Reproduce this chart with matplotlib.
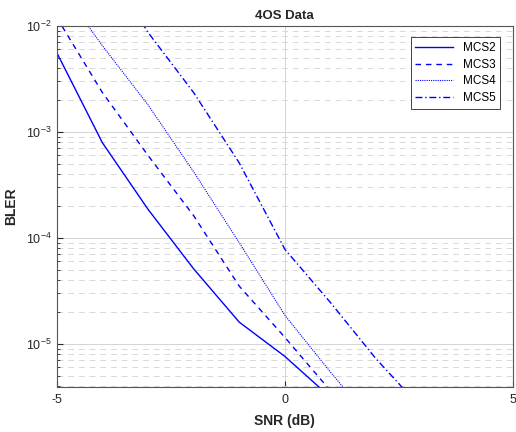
import numpy as np
import matplotlib
matplotlib.use("Agg")
import matplotlib.pyplot as plt
from matplotlib.ticker import LogLocator, NullFormatter

plt.rcParams['font.family'] = ['Liberation Sans', 'DejaVu Sans']
plt.rcParams['axes.unicode_minus'] = False

# SNR (dB) and BLER
snr_mcs2 = [-5.2, -5, -4, -3, -2, -1, 0, 0.75, 1.0]
bler_mcs2 = [9.0e-3, 5.6e-3, 7.9e-4, 1.86e-4, 5.1e-5, 1.6e-5, 7.6e-6, 3.9e-6, 3.0e-6]

snr_mcs3 = [-5, -4, -3, -2, -1, 0, 1]
bler_mcs3 = [1.2e-2, 2.35e-3, 6.0e-4, 1.62e-4, 3.5e-5, 1.15e-5, 3.6e-6]

snr_mcs4 = [-4.5, -4, -3, -2, -1, 0, 1, 1.5]
bler_mcs4 = [1.3e-2, 6.5e-3, 1.8e-3, 4.2e-4, 9.0e-5, 1.86e-5, 5.4e-6, 3.0e-6]

snr_mcs5 = [-3.5, -3, -2, -1, 0, 1, 2, 2.5, 3]
bler_mcs5 = [1.9e-2, 8.7e-3, 2.35e-3, 5.1e-4, 7.8e-5, 2.45e-5, 7.2e-6, 4.2e-6, 2.4e-6]

fig = plt.figure(figsize=(5.16, 4.32), dpi=100)
ax = fig.add_axes([0.110, 0.104, 0.884, 0.836])

ax.semilogy(snr_mcs2, bler_mcs2, color='blue', linestyle='-', linewidth=1.0, label='MCS2')
ax.semilogy(snr_mcs3, bler_mcs3, color='blue', linestyle=(0, (4, 3.5)), linewidth=1.0, label='MCS3')
ax.semilogy(snr_mcs4, bler_mcs4, color='blue', linestyle=(0, (1, 1)), linewidth=0.8, label='MCS4')
ax.semilogy(snr_mcs5, bler_mcs5, color='blue', linestyle=(0, (5, 2, 1, 2)), linewidth=1.0, label='MCS5')

ax.set_xlim(-5, 5)
ax.set_ylim(3.9e-6, 1e-2)
ax.set_xticks([-5, 0, 5])
ax.yaxis.set_major_locator(LogLocator(base=10, numticks=10))
ax.yaxis.set_minor_locator(LogLocator(base=10, subs=np.arange(2, 10), numticks=10))
ax.yaxis.set_minor_formatter(NullFormatter())

ax.grid(True, which='major', axis='both', color='#d4d4d4', linestyle='-', linewidth=0.7)
ax.grid(True, which='minor', axis='y', color='#d8d8d8', linestyle=(0, (6, 5)), linewidth=0.7)
ax.set_axisbelow(True)

ax.tick_params(axis='both', which='both', direction='in', colors='#262626', labelsize=9)
ax.tick_params(axis='both', which='major', length=4)
ax.tick_params(axis='x', which='major', pad=5)
ax.tick_params(axis='y', which='minor', length=2)
for s in ax.spines.values():
    s.set_color('#555555')
    s.set_linewidth(0.8)

ax.set_title('4OS Data', fontsize=9.5, fontweight='bold', color='#262626', pad=5)
ax.set_xlabel('SNR (dB)', fontsize=10, fontweight='bold', color='#262626', labelpad=6)
ax.set_ylabel('BLER', fontsize=10, fontweight='bold', color='#262626', labelpad=6)

leg = ax.legend(loc='upper right', fontsize=8.5, fancybox=False, framealpha=1,
                edgecolor='#262626', handlelength=3.2, borderpad=0.4, labelspacing=0.4,
                bbox_to_anchor=(0.985, 0.985))
leg.get_frame().set_linewidth(0.6)

fig.savefig('out.png', dpi=100)
